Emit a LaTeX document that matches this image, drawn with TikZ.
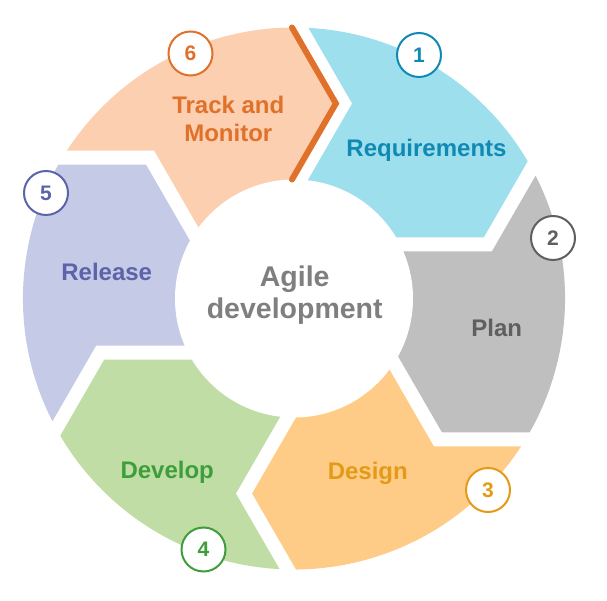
\documentclass[tikz,border=0pt]{standalone}
\usepackage{fontspec}
\setmainfont{Liberation Sans}
\definecolor{reqfill}{HTML}{9DDFEC}
\definecolor{reqtext}{HTML}{1089B4}
\definecolor{planfill}{HTML}{BFBFBF}
\definecolor{plantext}{HTML}{5F5F5F}
\definecolor{desfill}{HTML}{FFCC88}
\definecolor{destext}{HTML}{E39B17}
\definecolor{devfill}{HTML}{BFDDA5}
\definecolor{devtext}{HTML}{3E9E3C}
\definecolor{relfill}{HTML}{C5CAE6}
\definecolor{reltext}{HTML}{5B64A9}
\definecolor{trkfill}{HTML}{FBCFAF}
\definecolor{trktext}{HTML}{E0712B}
\definecolor{ctrtext}{HTML}{7F7F7F}
\begin{document}
\begin{tikzpicture}[x=1pt,y=1pt,
  lbl/.style={font=\fontsize{24}{28}\selectfont\bfseries, anchor=base, inner sep=0pt},
  ctr/.style={font=\fontsize{28.5}{32}\selectfont\bfseries, anchor=base, inner sep=0pt, text=ctrtext},
  num/.style={circle, draw, fill=white, line width=2pt, minimum size=44pt, inner sep=0pt,
              font=\fontsize{21}{24}\selectfont\bfseries}]
\useasboundingbox (-294,-302.5) rectangle (313,298.5);
% segments
\foreach \k/\c in {0/reqfill,1/planfill,2/desfill,3/devfill,4/relfill,5/trkfill}{
  \begin{scope}[rotate=-60*\k]
    \clip (0,0) circle (271);
    \fill[\c] (-41.9,21.8) -- (58.1,195) -- (-41.9,368.2) -- (289.81,234.41)
      -- (189.82,61.21) -- (-10.17,61.21) -- cycle;
  \end{scope}
}
% centre disc
\fill[white] (0,0) circle (119);
% track stroke
\coordinate (s1) at (-2,271);
\coordinate (s2) at (41.9,195);
\coordinate (s3) at (-2,119);
\draw[trktext, line width=6pt, line cap=round, line join=miter] (s1) -- (s2) -- (s3);
% labels
\node[lbl, text=reqtext] (req) at (132.5,141.8) {Requirements};
\node[lbl, text=plantext] (plan) at (202.7,-38.2) {Plan};
\node[lbl, text=destext] (des) at (73.8,-180.8) {Design};
\node[lbl, text=devtext] (dev) at (-126.8,-179.8) {Develop};
\node[lbl, text=reltext] (rel) at (-187.3,17.5) {Release};
\node[lbl, text=trktext] (trk1) at (-65.7,185.2) {Track and};
\node[lbl, text=trktext] (trk2) at (-65.7,156.8) {Monitor};
\node[ctr] (agile1) at (0.7,11.5) {Agile};
\node[ctr] (agile2) at (0.7,-19.8) {development};
% numbers
\node[num, draw=reqtext, text=reqtext] (n1) at (125,243.5) {1};
\node[num, draw=plantext, text=plantext] (n2) at (259,60.5) {2};
\node[num, draw=destext, text=destext] (n3) at (194,-191.5) {3};
\node[num, draw=devtext, text=devtext] (n4) at (-90.5,-251) {4};
\node[num, draw=reltext, text=reltext] (n5) at (-248,105.5) {5};
\node[num, draw=trktext, text=trktext] (n6) at (-103.5,245) {6};
\end{tikzpicture}
\end{document}
